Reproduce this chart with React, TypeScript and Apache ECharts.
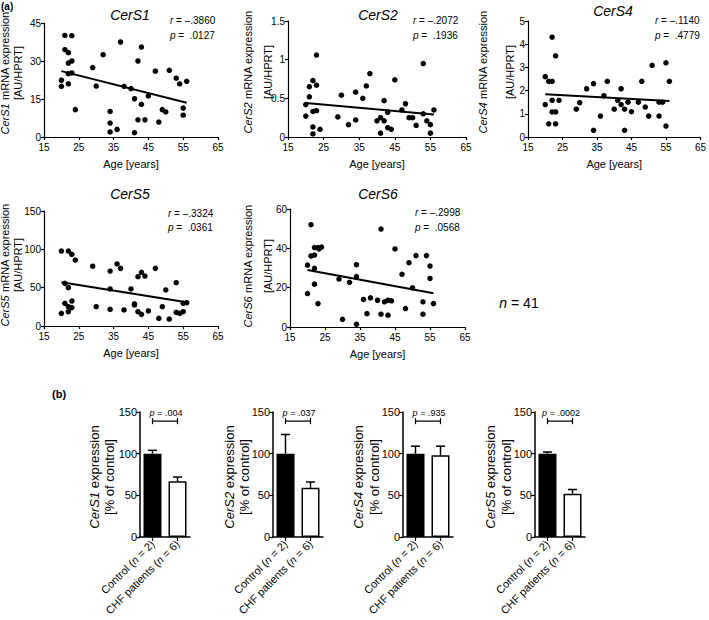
import React, { useEffect, useRef } from "react";
import * as echarts from "echarts";

const FONT = '"Liberation Sans", Arial, Helvetica, sans-serif';

// ---------- Panel (a): Age [years] vs mRNA expression [AU/HPRT] ----------
const ageTicks = { min: 15, max: 65, interval: 10 };

const cers1Points = [
  [20, 22.4], [20, 20], [21, 40.1], [21, 34.5], [22, 33.3], [22, 29.2], [22, 25], [22, 21],
  [23, 40], [23, 30], [23, 25.3], [24, 10.8], [29, 27.4], [30, 20.1], [32, 32.5], [34, 10.1],
  [34, 5.5], [34, 2], [36, 3], [37, 37.5], [38, 20], [40, 19.1], [41, 15.1], [41, 1.7],
  [42, 30], [42, 6.8], [43, 35.5], [43, 12.9], [44, 6.8], [45, 16.2], [47, 26], [48, 5.9],
  [49, 10.8], [50, 9.9], [51, 26.3], [53, 23.2], [54, 21], [55, 11.4], [55, 8.6], [56, 22],
];
const cers1Fit = [[20, 26], [56, 13.5]];

const cers2Points = [
  [20, 0.27], [20, 0.42], [21, 0.52], [21, 0.65], [22, 0.73], [22, 0.33], [22, 0.13], [22, 0.04],
  [23, 0.67], [23, 1.06], [23, 0.34], [24, 0.1], [29, 0.26], [30, 0.54], [32, 0.16], [34, 0.58],
  [34, 0.22], [36, 0.5], [37, 0.66], [38, 0.82], [40, 0.21], [41, 0.25], [41, 0.05], [42, 0.47],
  [42, 0.21], [43, 0.32], [43, 0.12], [44, 0.1], [45, 0.74], [47, 0.35], [48, 0.43], [49, 0.25],
  [50, 0.25], [51, 0.15], [53, 0.95], [53, 0.3], [54, 0.21], [55, 0.16], [55, 0.05], [56, 0.35],
];
const cers2Fit = [[20, 0.44], [56, 0.29]];

const cers4Points = [
  [20, 2.6], [20, 1.4], [21, 2.4], [21, 0.57], [22, 4.3], [22, 2.4], [22, 1.58], [22, 1.08],
  [23, 3.5], [23, 1.08], [23, 0.57], [24, 1.58], [29, 1.2], [30, 1.48], [32, 2.08], [34, 2.3],
  [34, 0.29], [36, 0.9], [37, 1.78], [38, 2.4], [40, 1.2], [41, 1.58], [42, 2.08], [42, 1.4],
  [43, 1.2], [43, 0.29], [44, 1.5], [45, 1.09], [47, 1.5], [48, 2.4], [49, 1.29], [50, 0.9],
  [51, 3.09], [53, 0.9], [53, 1.5], [54, 1.5], [55, 3.2], [55, 0.47], [56, 2.4],
];
const cers4Fit = [[20, 1.84], [56, 1.55]];

const cers5Points = [
  [20, 97.8], [20, 16.5], [21, 55.6], [21, 29.6], [22, 97.8], [22, 50], [22, 25.2], [22, 18.7],
  [23, 93.5], [23, 32.6], [23, 24], [24, 86], [29, 78], [30, 25.2], [34, 71.7], [34, 48.3],
  [34, 21.7], [36, 80.9], [37, 75.2], [38, 20.9], [40, 48.3], [41, 28.7], [41, 27.4], [42, 64.3],
  [42, 18.7], [43, 70], [43, 15.2], [44, 65.2], [45, 19.6], [47, 75.2], [48, 10], [49, 25.2],
  [50, 47], [51, 9.1], [53, 56.5], [53, 17.8], [54, 16.5], [55, 18.7], [55, 29.6], [56, 30.4],
];
const cers5Fit = [[20, 57], [56, 31]];

const cers6Points = [
  [20, 31.5], [20, 17], [21, 52], [21, 36.1], [22, 36.6], [22, 40.4], [22, 29.8], [22, 21.8],
  [23, 40.4], [23, 11.9], [23.3, 39.7], [24, 40.6], [29, 24.4], [30, 3.9], [32, 22.7], [34, 31.7],
  [34, 25.6], [34, 1.4], [36, 14], [37, 6.8], [38, 14.8], [40, 13.6], [41, 49.8], [41, 6.5],
  [42, 12.8], [43, 13.6], [43, 6], [44, 13.3], [45, 39.7], [47, 26.8], [48, 9.4], [49, 32.7],
  [50, 19.9], [51, 36.3], [53, 12.8], [53, 6.5], [54, 36.3], [55, 31], [55, 24.7], [56, 11.9],
];
const cers6Fit = [[20, 29], [56, 17.2]];

const scatterGenes = ["CerS1", "CerS2", "CerS4", "CerS5", "CerS6"];
const scatterR = ["\u2013.3860", "\u2013.2072", "\u2013.1140", "\u2013.3324", "\u2013.2998"];
const scatterP = [".0127", ".1936", ".4779", ".0361", ".0568"];
const scatterYMax = [45, 1.5, 5, 150, 60];
const scatterYInterval = [15, 0.5, 1, 50, 20];
const sampleN = 41;

// ---------- Panel (b): expression [% of control] ----------
const barCategories = ["Control", "CHF patients"];
const barGroupN = [2, 6];
const barGenes = ["CerS1", "CerS2", "CerS4", "CerS5"];
const barMeans = [
  [100, 67],
  [100, 59],
  [100, 98],
  [100, 52],
];
const barErrors = [
  [4, 5],
  [23, 7],
  [9, 11],
  [2, 5],
];
const barP = [".004", ".037", ".935", ".0002"];
const barBracketLevel = 139;
const barYTicks = { min: 0, max: 150, interval: 50 };

// ---------- layout (pixels) ----------
const scatterLayout = [
  { left: 44, top: 23, width: 174, height: 114, titleX: 130, titleY: 15, rpX: 170, rY: 20, pY: 35, yl1: 5, yl2: 18, ylY: 73 },
  { left: 288, top: 21, width: 178, height: 116, titleX: 378, titleY: 15, rpX: 413, rY: 20, pY: 35, yl1: 248, yl2: 268, ylY: 72 },
  { left: 528, top: 21, width: 175, height: 116, titleX: 613, titleY: 11, rpX: 655, rY: 20, pY: 35, yl1: 483, yl2: 510, ylY: 72 },
  { left: 44, top: 211, width: 174, height: 115, titleX: 130, titleY: 194, rpX: 168, rY: 213, pY: 227, yl1: 5, yl2: 18, ylY: 265 },
  { left: 290, top: 209, width: 175, height: 118, titleX: 378, titleY: 194, rpX: 415, rY: 212, pY: 227, yl1: 248, yl2: 268, ylY: 266 },
];
const barLayout = [
  { left: 140, yl1: 94, yl2: 109 },
  { left: 273, yl1: 229, yl2: 244 },
  { left: 403, yl1: 358, yl2: 374 },
  { left: 535, yl1: 490, yl2: 506 },
];
const BAR_TOP = 412;
const BAR_H = 125;
const BAR_W = 50;

function fmtTick(v: number) {
  if (v === 0) return "0";
  return Number.isInteger(v) ? String(v) : v.toFixed(1);
}

function richText(size: number, extra: any = {}) {
  return {
    n: { fontFamily: FONT, fontSize: size, fontStyle: "normal", fill: "#000", color: "#000", ...extra },
    i: { fontFamily: FONT, fontSize: size, fontStyle: "italic", fill: "#000", color: "#000", ...extra },
  };
}

function buildOption() {
  const allPoints = [cers1Points, cers2Points, cers4Points, cers5Points, cers6Points];
  const allFits = [cers1Fit, cers2Fit, cers4Fit, cers5Fit, cers6Fit];
  const grid: any[] = [];
  const xAxis: any[] = [];
  const yAxis: any[] = [];
  const series: any[] = [];
  const graphic: any[] = [];

  const axisLineStyle = { color: "#000", width: 1.2 };

  scatterGenes.forEach((gene, k) => {
    const L = scatterLayout[k];
    grid.push({ left: L.left, top: L.top, width: L.width, height: L.height, containLabel: false });
    xAxis.push({
      type: "value",
      gridIndex: k,
      min: ageTicks.min,
      max: ageTicks.max,
      interval: ageTicks.interval,
      name: "Age [years]",
      nameLocation: "middle",
      nameGap: 21,
      nameTextStyle: { fontFamily: FONT, fontSize: 11, color: "#000" },
      axisLine: { show: true, onZero: false, lineStyle: axisLineStyle },
      axisTick: { show: true, length: 3, lineStyle: axisLineStyle },
      axisLabel: { fontFamily: FONT, fontSize: 10, color: "#000", margin: 5 },
      splitLine: { show: false },
    });
    yAxis.push({
      type: "value",
      gridIndex: k,
      min: 0,
      max: scatterYMax[k],
      interval: scatterYInterval[k],
      axisLine: { show: true, onZero: false, lineStyle: axisLineStyle },
      axisTick: { show: true, length: 3, lineStyle: axisLineStyle },
      axisLabel: { fontFamily: FONT, fontSize: 10, color: "#000", margin: 3, formatter: fmtTick },
      splitLine: { show: false },
    });
    series.push({
      type: "scatter",
      xAxisIndex: k,
      yAxisIndex: k,
      data: allPoints[k],
      symbol: "circle",
      symbolSize: 5.5,
      itemStyle: { color: "#000", opacity: 1 },
      z: 3,
    });
    series.push({
      type: "line",
      xAxisIndex: k,
      yAxisIndex: k,
      data: allFits[k],
      showSymbol: false,
      symbol: "none",
      lineStyle: { color: "#000", width: 2 },
      z: 2,
    });
    graphic.push({
      type: "text",
      x: L.titleX,
      y: L.titleY,
      style: {
        text: gene,
        font: `italic 14px ${FONT}`,
        fill: "#000",
        align: "center",
        verticalAlign: "middle",
      },
    });
    graphic.push({
      type: "text",
      x: L.rpX,
      y: L.rY,
      style: {
        text: `{i|r} {n|= ${scatterR[k]}}`,
        rich: richText(10),
        font: `10px ${FONT}`,
        align: "left",
        verticalAlign: "middle",
      },
    });
    graphic.push({
      type: "text",
      x: L.rpX,
      y: L.pY,
      style: {
        text: `{i|p} {n|=  ${scatterP[k]}}`,
        rich: richText(10),
        font: `10px ${FONT}`,
        align: "left",
        verticalAlign: "middle",
      },
    });
    graphic.push({
      type: "text",
      x: L.yl1,
      y: L.ylY,
      rotation: Math.PI / 2,
      style: {
        text: `{i|${gene}}{n| mRNA expression}`,
        rich: richText(11),
        font: `11px ${FONT}`,
        align: "center",
        verticalAlign: "middle",
      },
    });
    graphic.push({
      type: "text",
      x: L.yl2,
      y: L.ylY,
      rotation: Math.PI / 2,
      style: {
        text: "[AU/HPRT]",
        font: `11px ${FONT}`,
        fill: "#000",
        align: "center",
        verticalAlign: "middle",
      },
    });
  });

  const catLabels = barCategories.map(
    (c, j) => `{n|${c} (}{i|n}{n| = ${barGroupN[j]})}`
  );

  barGenes.forEach((gene, b) => {
    const gi = scatterGenes.length + b;
    const L = barLayout[b];
    grid.push({ left: L.left, top: BAR_TOP, width: BAR_W, height: BAR_H, containLabel: false });
    xAxis.push({
      type: "category",
      gridIndex: gi,
      data: catLabels,
      boundaryGap: true,
      axisLine: { show: true, lineStyle: { color: "#000", width: 1.5 } },
      axisTick: { show: true, alignWithLabel: true, length: 4, lineStyle: { color: "#000", width: 1.2 } },
      axisLabel: {
        rotate: 45,
        interval: 0,
        margin: 5,
        fontFamily: FONT,
        fontSize: 11,
        color: "#000",
        rich: richText(11),
      },
    });
    yAxis.push({
      type: "value",
      gridIndex: gi,
      min: barYTicks.min,
      max: barYTicks.max,
      interval: barYTicks.interval,
      axisLine: { show: true, lineStyle: { color: "#000", width: 1.5 } },
      axisTick: { show: true, length: 4, lineStyle: { color: "#000", width: 1.2 } },
      axisLabel: { fontFamily: FONT, fontSize: 11, color: "#000", margin: 3 },
      splitLine: { show: false },
    });
    series.push({
      type: "bar",
      xAxisIndex: gi,
      yAxisIndex: gi,
      barWidth: 18,
      data: barMeans[b].map((v, j) => ({
        value: v,
        itemStyle:
          j === 0
            ? { color: "#000", borderColor: "#000", borderWidth: 1.5 }
            : { color: "#fff", borderColor: "#000", borderWidth: 1.5 },
      })),
      z: 2,
    });
    series.push({
      type: "custom",
      xAxisIndex: gi,
      yAxisIndex: gi,
      data: barMeans[b].map((v, j) => [j, v, barErrors[b][j]]),
      z: 3,
      renderItem: (params: any, api: any) => {
        const x = api.value(0);
        const y = api.value(1);
        const e = api.value(2);
        const top = api.coord([x, y + e]);
        const base = api.coord([x, y]);
        const half = 4.5;
        return {
          type: "group",
          children: [
            {
              type: "line",
              shape: { x1: top[0], y1: top[1], x2: base[0], y2: base[1] },
              style: { stroke: "#000", lineWidth: 1.5 },
            },
            {
              type: "line",
              shape: { x1: top[0] - half, y1: top[1], x2: top[0] + half, y2: top[1] },
              style: { stroke: "#000", lineWidth: 1.5 },
            },
          ],
        };
      },
    });
    series.push({
      type: "line",
      xAxisIndex: gi,
      yAxisIndex: gi,
      data: [barBracketLevel, barBracketLevel],
      symbol: "rect",
      symbolSize: [1.2, 6],
      showSymbol: true,
      itemStyle: { color: "#000" },
      lineStyle: { color: "#000", width: 1.2 },
      z: 3,
    });
    graphic.push({
      type: "text",
      x: L.left + BAR_W / 2 + 1,
      y: BAR_TOP + 1,
      style: {
        text: `{i|p} {n|= ${barP[b]}}`,
        rich: richText(9),
        font: `9px ${FONT}`,
        align: "center",
        verticalAlign: "middle",
      },
    });
    graphic.push({
      type: "text",
      x: L.yl1,
      y: 477,
      rotation: Math.PI / 2,
      style: {
        text: `{i|${gene}}{n| expression}`,
        rich: richText(13),
        font: `13px ${FONT}`,
        align: "center",
        verticalAlign: "middle",
      },
    });
    graphic.push({
      type: "text",
      x: L.yl2,
      y: 477,
      rotation: Math.PI / 2,
      style: {
        text: "[% of control]",
        font: `13px ${FONT}`,
        fill: "#000",
        align: "center",
        verticalAlign: "middle",
      },
    });
  });

  graphic.push({
    type: "text",
    x: 1,
    y: 6,
    style: { text: "(a)", font: `bold 10px ${FONT}`, fill: "#000", verticalAlign: "middle" },
  });
  graphic.push({
    type: "text",
    x: 52,
    y: 394,
    style: { text: "(b)", font: `bold 11px ${FONT}`, fill: "#000", verticalAlign: "middle" },
  });
  graphic.push({
    type: "text",
    x: 519,
    y: 303,
    style: {
      text: `{i|n}{n| = ${sampleN}}`,
      rich: richText(14),
      font: `14px ${FONT}`,
      align: "center",
      verticalAlign: "middle",
    },
  });

  return {
    animation: false,
    backgroundColor: "#fff",
    textStyle: { fontFamily: FONT, color: "#000" },
    grid,
    xAxis,
    yAxis,
    series,
    graphic,
  };
}

export default function App() {
  const ref = useRef<HTMLDivElement>(null);
  useEffect(() => {
    document.body.style.margin = "0";
    if (!ref.current) return;
    const chart = echarts.init(ref.current, null, { renderer: "svg" });
    chart.setOption(buildOption() as any);
    return () => chart.dispose();
  }, []);
  return <div ref={ref} style={{ width: 709, height: 620, background: "#fff" }} />;
}
